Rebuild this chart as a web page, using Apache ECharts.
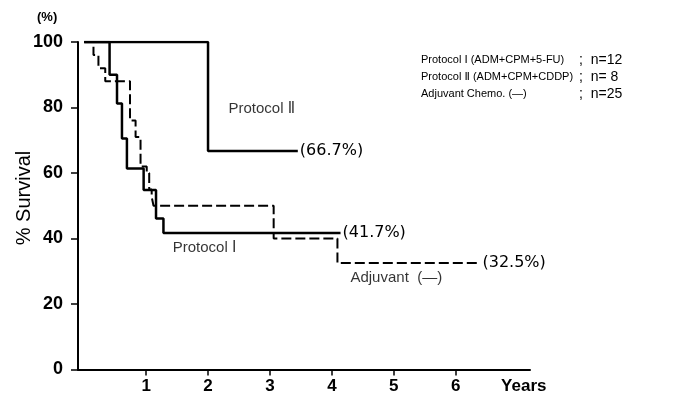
<!DOCTYPE html>
<html>
<head>
<meta charset="utf-8">
<script src="https://cdn.jsdelivr.net/npm/echarts@6/dist/echarts.min.js"></script>
<style>
html,body{margin:0;padding:0;background:#fff;}
#chart{width:691px;height:401px;}
</style>
</head>
<body>
<div id="chart"></div>
<script>
// ---- data (years, % survival) ----
const xTicks = [1, 2, 3, 4, 5, 6];
const yTicks = [0, 20, 40, 60, 80, 100];
const protocol1 = [[0,100],[0.41,90],[0.53,81.2],[0.61,70.5],[0.69,61.4],[0.96,54.8],[1.16,46.1],[1.28,41.7],[4.14,41.7]];
const protocol2 = [[0,100],[2.0,66.7],[3.45,66.7]];
const adjuvant = [[0,100],[0.15,96],[0.23,92],[0.34,88],[0.74,76],[0.83,71],[0.91,62],[1.01,60],[1.05,55],[1.09,52.7],[1.12,50],[3.06,40],[4.09,32.5],[6.4,32.5]];
const endLabels = ['(41.7%)', '(66.7%)', '(32.5%)'];
const annotations = [[2.33,79.5,'Protocol Ⅱ'],[1.43,37,'Protocol Ⅰ'],[4.3,27.9,'Adjuvant  (—)']];
const legendRows = [
  ['Protocol Ⅰ (ADM+CPM+5-FU)', ';  n=12'],
  ['Protocol Ⅱ (ADM+CPM+CDDP)', ';  n= 8'],
  ['Adjuvant Chemo. (—)', ';  n=25']
];

const tickFont = '"Liberation Sans","DejaVu Sans",sans-serif';
const textFont = '"Liberation Sans","DejaVu Sans",sans-serif';
const chart = echarts.init(document.getElementById('chart'), null, {renderer:'canvas'});

function stepSeries(name, data, label, dashed, width){
  return {
    name: name, type: 'line', step: 'end', data: data, symbol: 'none',
    animation: false,
    lineStyle: {color:'#000', width: width, type: dashed ? [10,4] : 'solid'},
    endLabel: {show: true, formatter: label, distance: 2, color:'#000',
      fontFamily: '"DejaVu Sans",sans-serif', fontSize: 16}
  };
}

const graphics = [
  {type:'text', left: 37, top: 11, style:{text:'(%)', fill:'#000', font:'bold 13px "Liberation Sans",sans-serif'}},
  {type:'text', x: 24, y: 198, rotation: Math.PI/2,
    style:{text:'% Survival', fill:'#000', align:'center', verticalAlign:'middle',
      font:'20px "Liberation Sans","DejaVu Sans",sans-serif'}}
];
legendRows.forEach((r, i) => {
  graphics.push({type:'text', left: 421, top: 54 + i*17,
    style:{text: r[0], fill:'#000', font: '11px "Liberation Sans","DejaVu Sans",sans-serif'}});
  graphics.push({type:'text', left: 579, top: 53 + i*17,
    style:{text: r[1], fill:'#000', font: '14px "Liberation Sans","DejaVu Sans",sans-serif'}});
});

chart.setOption({
  backgroundColor: '#fff',
  animation: false,
  grid: {left: 78, right: 161, top: 42, bottom: 31.5, containLabel: false, outerBoundsMode: 'none'},
  xAxis: {
    type: 'value', min: -0.1, max: 7.2,
    axisLine: {show: true, onZero: false, lineStyle: {color:'#000', width: 2}},
    axisTick: {show: true, length: 6, lineStyle: {color:'#000', width: 1.5},
      customValues: xTicks},
    axisLabel: {color:'#000', fontFamily: tickFont, fontWeight:'bold', fontSize: 17, margin: 8,
      customValues: xTicks.concat([7.1]),
      formatter: v => (v > 6.5 ? 'Years' : String(v))},
    splitLine: {show: false}
  },
  yAxis: {
    type: 'value', min: 0, max: 100, interval: 20,
    axisLine: {show: true, onZero: false, lineStyle: {color:'#000', width: 2}},
    axisTick: {show: true, length: 7, lineStyle: {color:'#000', width: 1.5}},
    axisLabel: {color:'#000', fontFamily: tickFont, fontWeight:'bold', fontSize: 18, margin: 15,
      customValues: yTicks},
    splitLine: {show: false}
  },
  graphic: graphics,
  series: [
    stepSeries('Protocol I', protocol1, endLabels[0], false, 2.5),
    stepSeries('Protocol II', protocol2, endLabels[1], false, 2.5),
    stepSeries('Adjuvant', adjuvant, endLabels[2], true, 2),
    {
      type: 'scatter', name: 'notes', data: annotations, symbolSize: 0, silent: true,
      label: {show: true, position: [0, 0], align: 'left', verticalAlign: 'middle', color:'#000',
        fontFamily: textFont, fontSize: 15, formatter: p => p.data[2]}
    }
  ]
});
</script>
</body>
</html>
